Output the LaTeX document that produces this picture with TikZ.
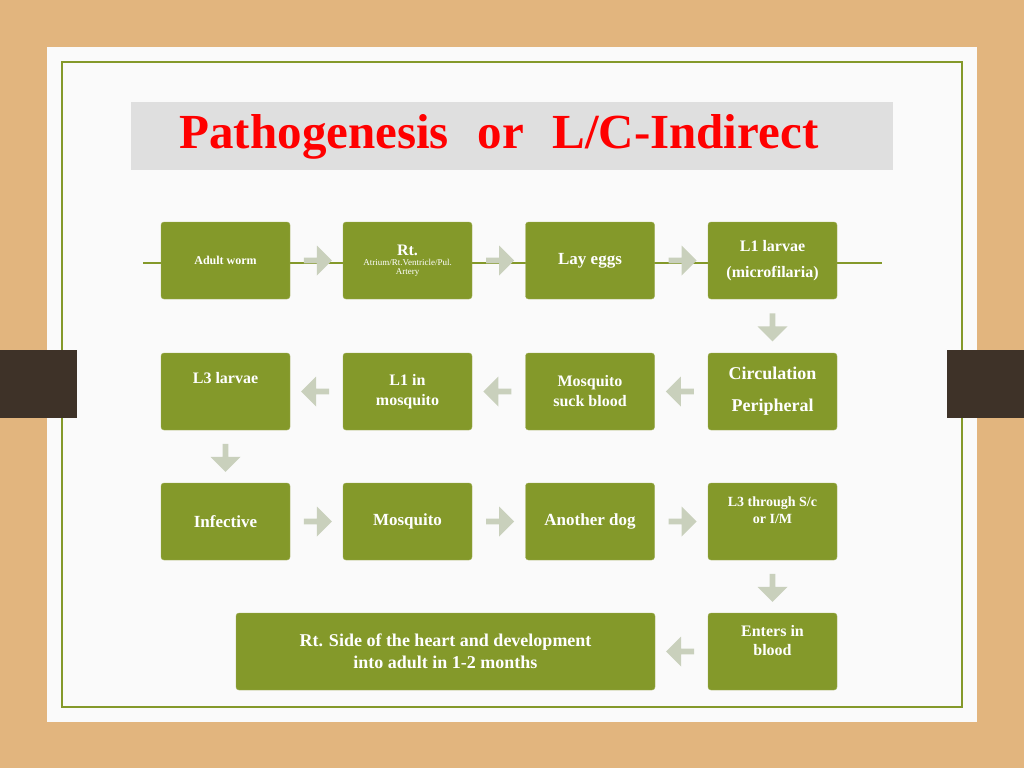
\documentclass[tikz,border=0pt]{standalone}
\usepackage{fontspec}
\setmainfont{Liberation Serif}
\usetikzlibrary{shapes.arrows,calc}
\definecolor{olive}{HTML}{84992A}
\definecolor{wood}{HTML}{E2B57E}
\definecolor{arrowgray}{HTML}{C9D0BC}
\definecolor{tabbrown}{HTML}{3E3228}

\tikzset{
  stepbox/.style={fill=olive,draw=olive!80!white,rounded corners=3pt,minimum width=129pt,minimum height=77pt,
    text=white,align=center,inner sep=2pt},
  flowarrow/.style={single arrow,fill=arrowgray,draw=none,minimum height=28pt,minimum width=30pt,
    single arrow head extend=5pt,single arrow tip angle=90,inner sep=1pt}
}

\begin{document}
\begin{tikzpicture}[x=1pt,y=-1pt]
    \useasboundingbox (0,0) rectangle (1024,768);
    \fill[wood] (0,0) rectangle (1024,768);
    \fill[white!96!gray] (47,47) rectangle (977,722);
    \draw[olive,line width=1.2pt] (62,62) rectangle (962,707);
    \fill[tabbrown] (0,350) rectangle (77,418);
    \fill[tabbrown] (947,350) rectangle (1024,418);
    \fill[gray!25] (131,102) rectangle (893,170);
    \node[anchor=west,text=red,font=\bfseries\fontsize{49}{52}\selectfont] (title) at (176,137) {Pathogenesis\,\, or\,\, L/C-Indirect};

    % row 1
    \draw[olive,line width=1.2pt] (143,263) -- (882,263);
    \node[stepbox,font=\bfseries\fontsize{12}{14}\selectfont] (adult) at (225.5,260.5) {Adult worm};
    \node[stepbox] (rt) at (407.5,260.5) {{\bfseries\fontsize{16}{18}\selectfont Rt.}\\[-2pt]{\fontsize{9}{10}\selectfont Atrium/Rt.Ventricle/Pul.}\\[-3pt]{\fontsize{9}{10}\selectfont Artery}};
    \node[stepbox,font=\bfseries\fontsize{17}{20}\selectfont] (eggs) at (590,260.5) {Lay eggs};
    \node[stepbox,font=\bfseries\fontsize{16}{26}\selectfont] (l1) at (772.5,260.5) {L1 larvae\\(microfilaria)};

    % row 2
    \node[stepbox,font=\bfseries\fontsize{16}{20}\selectfont] (l3) at (225.5,391.5) {L3 larvae\\[8pt]};
    \node[stepbox,font=\bfseries\fontsize{16}{20}\selectfont] (l1m) at (407.5,391.5) {L1 in\\mosquito};
    \node[stepbox,font=\bfseries\fontsize{16}{20}\selectfont] (suck) at (590,391.5) {Mosquito\\suck blood};
    \node[stepbox,font=\bfseries\fontsize{18}{32}\selectfont] (circ) at (772.5,391.5) {Circulation\\Peripheral};

    % row 3
    \node[stepbox,font=\bfseries\fontsize{17}{20}\selectfont] (inf) at (225.5,521.5) {Infective};
    \node[stepbox,font=\bfseries\fontsize{17}{20}\selectfont] (mosq) at (407.5,521.5) {Mosquito};
    \node[stepbox,font=\bfseries\fontsize{17}{20}\selectfont] (dog) at (590,521.5) {Another dog};
    \node[stepbox,font=\bfseries\fontsize{14}{17}\selectfont] (sc) at (772.5,521.5) {L3 through S/c\\or I/M\\[6pt]};

    % row 4
    \node[stepbox,minimum width=419pt,font=\bfseries\fontsize{18}{22}\selectfont] (heart) at (445.5,651.5) {Rt. Side of the heart and development\\into adult in 1-2 months};
    \node[stepbox,font=\bfseries\fontsize{16}{19}\selectfont] (enter) at (772.5,651.5) {Enters in\\blood\\[4pt]};

    % arrows
    \node[flowarrow] (a1) at ($(adult.east)!0.5!(rt.west)$) {};
    \node[flowarrow] (a2) at ($(rt.east)!0.5!(eggs.west)$) {};
    \node[flowarrow] (a3) at ($(eggs.east)!0.5!(l1.west)$) {};
    \node[flowarrow,rotate=-90] (a4) at ($(l1.south)!0.5!(circ.north)$) {};
    \node[flowarrow,rotate=180] (a5) at ($(circ.west)!0.5!(suck.east)$) {};
    \node[flowarrow,rotate=180] (a6) at ($(suck.west)!0.5!(l1m.east)$) {};
    \node[flowarrow,rotate=180] (a7) at ($(l1m.west)!0.5!(l3.east)$) {};
    \node[flowarrow,rotate=-90] (a8) at ($(l3.south)!0.5!(inf.north)$) {};
    \node[flowarrow] (a9) at ($(inf.east)!0.5!(mosq.west)$) {};
    \node[flowarrow] (a10) at ($(mosq.east)!0.5!(dog.west)$) {};
    \node[flowarrow] (a11) at ($(dog.east)!0.5!(sc.west)$) {};
    \node[flowarrow,rotate=-90] (a12) at ($(sc.south)!0.5!(enter.north)$) {};
    \node[flowarrow,rotate=180] (a13) at ($(enter.west)!0.5!(heart.east)$) {};
\end{tikzpicture}
\end{document}
